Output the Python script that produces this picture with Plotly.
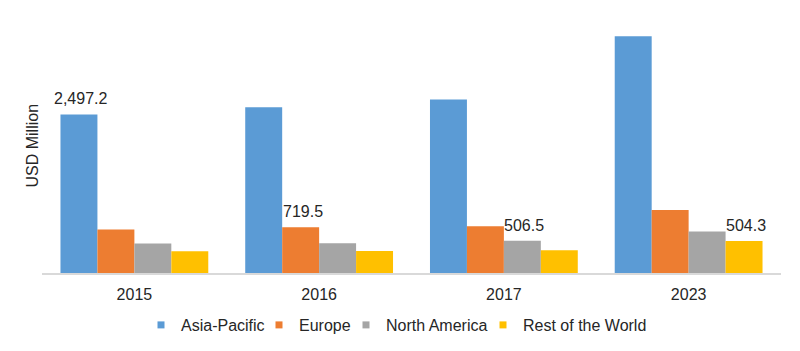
import plotly.graph_objects as go

years = ["2015", "2016", "2017", "2023"]
series_names = ["Asia-Pacific", "Europe", "North America", "Rest of the World"]
asia_pacific = [2497.2, 2612, 2733, 3729]
europe = [684, 719.5, 738, 991]
north_america = [463, 469, 506.5, 653]
rest_of_world = [343, 348, 359, 504.3]
# data labels shown on the chart (empty = no label)
labels_ap = ["2,497.2", "", "", ""]
labels_eu = ["", "719.5", "", ""]
labels_na = ["", "", "506.5", ""]
labels_row = ["", "", "", "504.3"]

colors = ["#5B9BD5", "#ED7D31", "#A5A5A5", "#FFC000"]
values = [asia_pacific, europe, north_america, rest_of_world]
labels = [labels_ap, labels_eu, labels_na, labels_row]
# left edge (px, in the 800-wide page) of each legend entry
legend_left_px = [141, 259, 346, 483]

FONT = "Liberation Sans, Arial, sans-serif"
TXT = "#262626"
W, H = 800, 351
bargap = 0.2

fig = go.Figure()
for name, vals, col in zip(series_names, values, colors):
    fig.add_trace(go.Bar(x=years, y=vals, name=name, marker_color=col,
                         marker_line_width=0, showlegend=False,
                         hoverinfo="x+y+name"))
# legend-only entries with small square markers, each in its own legend
legend_ids = ["legend", "legend2", "legend3", "legend4"]
for name, col, lid in zip(series_names, colors, legend_ids):
    fig.add_trace(go.Scatter(x=[None], y=[None], mode="markers", name=name,
                             legend=lid,
                             marker=dict(symbol="square", size=7, color=col)))

n = len(series_names)
annotations = []
for i, (vals, labs) in enumerate(zip(values, labels)):
    off = (i - (n - 1) / 2) * (1 - bargap) / n
    for j, (v, t) in enumerate(zip(vals, labs)):
        if t:
            annotations.append(dict(x=j + off, y=v, xref="x", yref="y", text=t,
                                    showarrow=False, yanchor="bottom", xanchor="center",
                                    yshift=5, xshift=2,
                                    font=dict(family=FONT, size=16, color=TXT)))
annotations.append(dict(x=0, y=0.5, xref="paper", yref="paper", text="USD Million",
                        textangle=-90, showarrow=False, xanchor="center", yanchor="middle",
                        xshift=-10.5, font=dict(family=FONT, size=16, color=TXT)))

legend_common = dict(orientation="h", xref="container", yref="container",
                     xanchor="left", y=(H - 325) / H, yanchor="middle",
                     font=dict(family=FONT, size=16, color=TXT),
                     itemwidth=30, bgcolor="rgba(0,0,0,0)")
legends = {}
for lid, lx in zip(legend_ids, legend_left_px):
    legends[lid] = dict(legend_common, x=lx / W)

fig.update_layout(
    width=W, height=H,
    margin=dict(l=41.5, r=18.5, t=19, b=78, pad=0, autoexpand=False),
    paper_bgcolor="white", plot_bgcolor="white",
    barmode="group", bargap=bargap, bargroupgap=0,
    font=dict(family=FONT, size=16, color=TXT),
    xaxis=dict(type="category", showline=True, linecolor="#D9D9D9", linewidth=2,
               showgrid=False, ticks="outside", ticklen=6, tickcolor="rgba(0,0,0,0)",
               automargin=False,
               tickfont=dict(family=FONT, size=16, color=TXT)),
    yaxis=dict(range=[0, 4000], showgrid=False, showticklabels=False,
               zeroline=False, showline=False, ticks="", automargin=False),
    annotations=annotations,
    **legends,
)

fig.write_html("out.html")
